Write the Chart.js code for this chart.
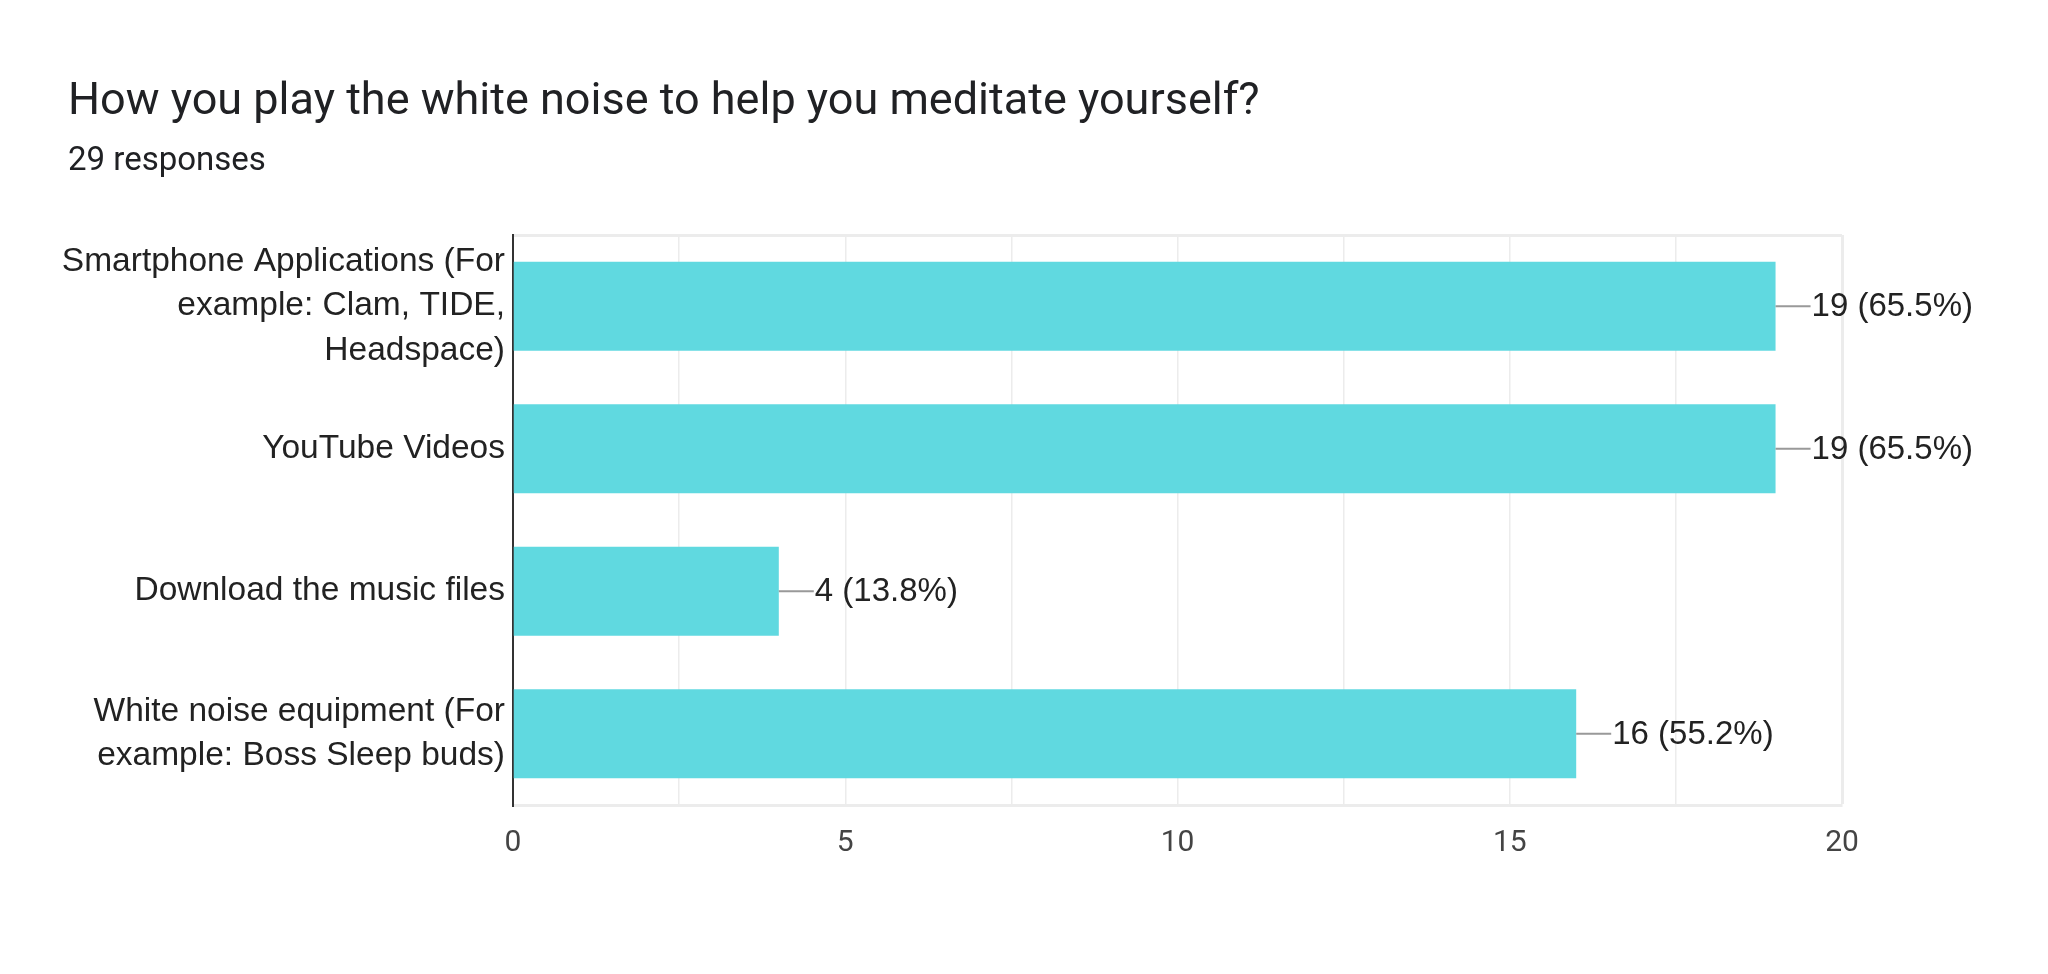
<!DOCTYPE html>
<html>
<head>
<meta charset="utf-8">
<script src="https://cdn.jsdelivr.net/npm/chart.js@4/dist/chart.umd.min.js"></script>
<style>
    html, body { margin: 0; padding: 0; background: #fff; }
    #wrap { position: relative; width: 2048px; height: 974px; overflow: hidden; }
    #title {
        position: absolute; left: 68px; top: 76px;
        font: 45px/1 Roboto, "Noto Sans", sans-serif; color: #202124; white-space: nowrap;
    }
    #sub {
        position: absolute; left: 68px; top: 142px;
        font: 33px/1 Roboto, "Noto Sans", sans-serif; color: #202124; white-space: nowrap;
    }
    #chart { position: absolute; left: 0; top: 0; }
</style>
</head>
<body>
<div id="wrap">
    <canvas id="chart" width="2048" height="974"></canvas>
    <div id="title">How you play the white noise to help you meditate yourself?</div>
    <div id="sub">29 responses</div>
</div>
<script>
// ---------- 数据 ----------
const categories = [
    ['Smartphone Applications (For', 'example: Clam, TIDE,', 'Headspace)'],
    'YouTube Videos',
    'Download the music files',
    ['White noise equipment (For', 'example: Boss Sleep buds)'],
];
const counts = [19, 19, 4, 16];
const percents = [65.5, 65.5, 13.8, 55.2];
const xTicks = [0, 5, 10, 15, 20];

const BAR_COLOR = '#60d9e0';
const LABEL_FONT = '"Liberation Sans", Arial, sans-serif';

// 数值标签 + 引线
const valueLabels = {
    id: 'valueLabels',
    afterDatasetsDraw(chart) {
        const ctx = chart.ctx;
        const meta = chart.getDatasetMeta(0);
        ctx.save();
        meta.data.forEach((bar, i) => {
            ctx.strokeStyle = '#999';
            ctx.lineWidth = 2;
            ctx.beginPath();
            ctx.moveTo(bar.x, bar.y);
            ctx.lineTo(bar.x + 35, bar.y);
            ctx.stroke();
            ctx.fillStyle = '#222';
            ctx.font = '33px ' + LABEL_FONT;
            ctx.textAlign = 'left';
            ctx.textBaseline = 'middle';
            ctx.fillText(counts[i] + ' (' + percents[i].toFixed(1) + '%)', bar.x + 36, bar.y + 1);
        });
        ctx.restore();
    }
};

new Chart(document.getElementById('chart'), {
    type: 'bar',
    data: {
        labels: categories,
        datasets: [{
            data: counts,
            backgroundColor: BAR_COLOR,
            borderWidth: 0,
            barPercentage: 0.625,
            categoryPercentage: 1,
        }]
    },
    options: {
        indexAxis: 'y',
        responsive: false,
        animation: false,
        layout: { padding: { left: 0, right: 206, top: 235, bottom: 0 } },
        plugins: {
            legend: { display: false },
            tooltip: { enabled: false },
        },
        scales: {
            x: {
                min: 0,
                max: 20,
                afterBuildTicks: axis => {
                    axis.ticks = [];
                    for (let v = 0; v <= 20; v += 2.5) axis.ticks.push({ value: v });
                },
                afterFit: axis => { axis.height = 974 - 805; },
                ticks: {
                    callback: v => xTicks.includes(v) ? String(v) : '',
                    color: '#444',
                    font: { family: 'Roboto, sans-serif', size: 30 },
                    padding: 20,
                    maxRotation: 0,
                    autoSkip: false,
                },
                grid: {
                    color: '#ececec',
                    lineWidth: c => c.tick && c.tick.value === 20 ? 3 : 1.5,
                    drawTicks: false,
                },
                border: { color: '#ececec', width: 3 },
            },
            y: {
                afterFit: axis => { axis.width = 513; },
                ticks: {
                    color: '#222',
                    font: { family: LABEL_FONT, size: 33.5, lineHeight: 1.33 },
                    padding: 8,
                    autoSkip: false,
                },
                grid: {
                    color: c => c.index === 0 ? '#ececec' : 'rgba(0,0,0,0)',
                    lineWidth: 3,
                    drawTicks: false,
                },
                border: { color: '#333', width: 2 },
            }
        }
    },
    plugins: [valueLabels]
});
</script>
</body>
</html>
